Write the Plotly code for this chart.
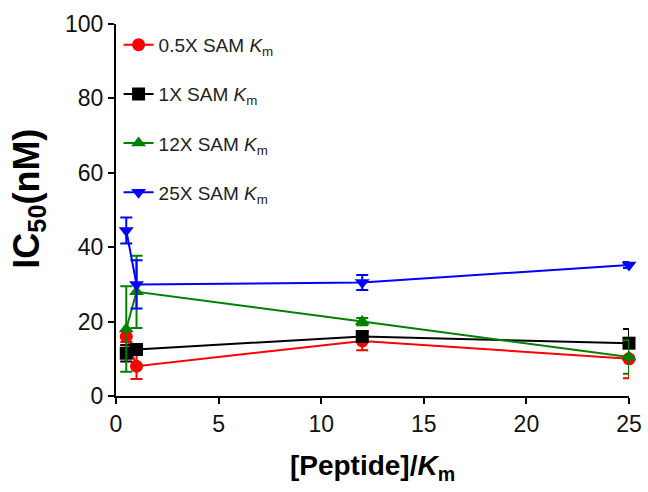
import plotly.graph_objects as go

x_vals = [0.5, 1, 12, 25]

sam_labels = ["0.5X SAM <i>K</i><sub>m</sub>", "1X SAM <i>K</i><sub>m</sub>",
              "12X SAM <i>K</i><sub>m</sub>", "25X SAM <i>K</i><sub>m</sub>"]

y_05x = [16, 8, 14.8, 10]
err_05x = [1.5, 3.4, 2.5, 5.2]

y_1x = [11.5, 12.5, 16, 14.2]
err_1x = [2.2, 1.5, 1.5, 3.8]

y_12x = [18, 28, 20, 10.5]
err_12x = [11.5, 9.7, 1.0, 4.5]

y_25x = [44.5, 30, 30.5, 35.2]
err_25x = [3.5, 6.5, 2.0, 0.8]

colors = ["#ff0000", "#000000", "#008000", "#0000ff"]
symbols = ["circle", "square", "triangle-up", "triangle-down"]
series = [(y_05x, err_05x), (y_1x, err_1x), (y_12x, err_12x), (y_25x, err_25x)]

FONT = "Liberation Sans, Arial, sans-serif"

fig = go.Figure()
for i, ((ys, es), name) in enumerate(zip(series, sam_labels)):
    fig.add_trace(go.Scatter(
        x=x_vals, y=ys, name=name, mode="lines+markers",
        legendgroup=f"g{i}",
        line=dict(color=colors[i], width=2),
        marker=dict(color=colors[i], symbol=symbols[i], size=13),
        error_y=dict(type="data", array=es, visible=True, color=colors[i],
                     thickness=2, width=6),
        cliponaxis=False,
    ))

fig.update_layout(
    width=648, height=492,
    margin=dict(l=116, r=19, t=24, b=96, autoexpand=False),
    paper_bgcolor="white", plot_bgcolor="white",
    font=dict(family=FONT, color="black"),
    showlegend=True,
    legend=dict(x=0.005, y=0.995, xanchor="left", yanchor="top",
                font=dict(size=19, color="#222222"),
                traceorder="grouped", tracegroupgap=21.5,
                bgcolor="rgba(0,0,0,0)", itemwidth=30),
    xaxis=dict(range=[0, 25], tickvals=[0, 5, 10, 15, 20, 25],
               automargin=False,
               showline=True, linecolor="black", linewidth=2,
               ticks="outside", ticklen=6, tickwidth=2, tickcolor="black",
               showgrid=False, zeroline=False,
               tickfont=dict(size=23, family=FONT, color="#111111"),
               title=dict(text="<b>[Peptide]/<i>K</i><sub>m</sub></b>",
                          font=dict(size=28), standoff=20)),
    yaxis=dict(range=[0, 100], tickvals=[0, 20, 40, 60, 80, 100],
               automargin=False,
               showline=True, linecolor="black", linewidth=2,
               ticks="outside", ticklen=6, tickwidth=2, tickcolor="black",
               showgrid=False, zeroline=False,
               tickfont=dict(size=23, family=FONT, color="#111111")),
    annotations=[dict(text="<b>IC<sub>50</sub>(nM)</b>", textangle=-90,
                      xref="paper", yref="paper", x=-0.17, y=0.53,
                      xanchor="center", yanchor="middle", showarrow=False,
                      font=dict(size=36, family=FONT, color="black"))],
)

fig.write_html("out.html")
